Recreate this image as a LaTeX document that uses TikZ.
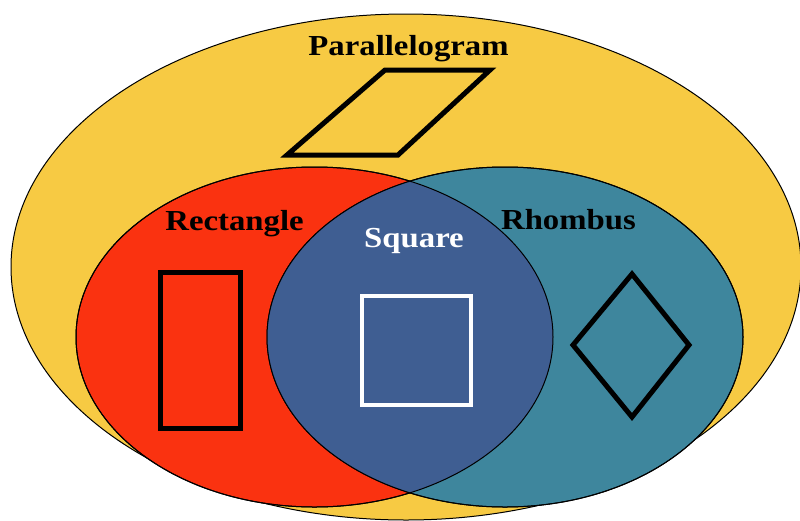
\documentclass[tikz,border=0pt]{standalone}
\usepackage{fontspec}
\setmainfont{Liberation Serif}[FakeStretch=1.13]
\definecolor{pyellow}{RGB}{247,202,67}
\definecolor{pred}{RGB}{250,50,16}
\definecolor{pteal}{RGB}{62,134,157}
\definecolor{pblue}{RGB}{63,94,146}
\begin{document}
\begin{tikzpicture}[x=1pt,y=-1pt,
  lbl/.style={font=\bfseries\fontsize{29}{31}\selectfont, anchor=base, inner sep=0pt},
  setline/.style={draw=black, line width=1pt},
  figline/.style={line width=5pt, line join=miter}]
\useasboundingbox (0,0) rectangle (800,520);
\clip (0,0) rectangle (800,520);
\fill[white] (0,0) rectangle (800,520);
% sets
\draw[setline, fill=pyellow] (406,267) ellipse [x radius=395, y radius=253];
\draw[setline, fill=pred] (314.5,337) ellipse [x radius=238.5, y radius=170];
\draw[setline, fill=pteal] (505,337) ellipse [x radius=238, y radius=170];
\begin{scope}
  \clip (314.5,337) ellipse [x radius=238.5, y radius=170];
  \fill[pblue] (505,337) ellipse [x radius=238, y radius=170];
\end{scope}
\draw[setline] (314.5,337) ellipse [x radius=238.5, y radius=170];
\draw[setline] (505,337) ellipse [x radius=238, y radius=170];
% figures
\draw[figline, black] (287,155) -- (398,155) -- (490,70) -- (385,70) -- cycle;
\draw[figline, black] (160,272) rectangle (240,428);
\draw[figline, white, line width=4pt] (362,296) rectangle (471,405);
\draw[figline, black] (632,274) -- (689,345) -- (632,417) -- (573,345) -- cycle;
% labels
\node[lbl] (para) at (408.5,55) {Parallelogram};
\node[lbl] (rect) at (234.5,230) {Rectangle};
\node[lbl, text=white] (sq) at (414,247) {Square};
\node[lbl] (rhom) at (568.5,229) {Rhombus};
\end{tikzpicture}
\end{document}
